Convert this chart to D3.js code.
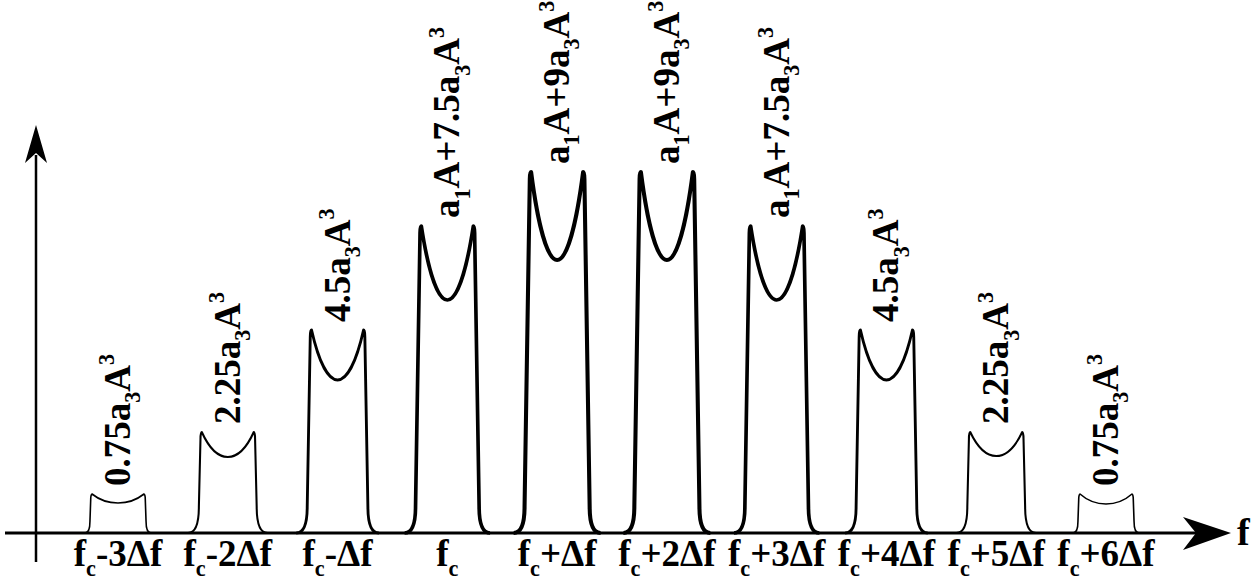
<!DOCTYPE html>
<html>
<head>
<meta charset="utf-8">
<script src="https://cdn.jsdelivr.net/npm/d3@7"></script>
<style>
  html, body { margin: 0; padding: 0; background: #fff; }
  svg { display: block; }
</style>
</head>
<body>
<div id="chart"></div>
<script>
// Spectral components around the carrier: offset in units of Δf
const offsets = [-3, -2, -1, 0, 1, 2, 3, 4, 5, 6];
// Peak (edge) and dip (centre) heights, arbitrary units
const peaks = [39, 101, 203, 307, 361, 361, 307, 203, 101, 39];
const dips  = [30, 76, 153, 233, 273, 273, 233, 153, 77, 29];
// Labels: "_x" = subscript char, "^x" = superscript char
const freqLabels = ['f_c-3Δf', 'f_c-2Δf', 'f_c-Δf', 'f_c', 'f_c+Δf', 'f_c+2Δf',
                    'f_c+3Δf', 'f_c+4Δf', 'f_c+5Δf', 'f_c+6Δf'];
const ampLabels = ['0.75a_3A^3', '2.25a_3A^3', '4.5a_3A^3', 'a_1A+7.5a_3A^3', 'a_1A+9a_3A^3',
                   'a_1A+9a_3A^3', 'a_1A+7.5a_3A^3', '4.5a_3A^3', '2.25a_3A^3', '0.75a_3A^3'];

const W = 1258, H = 581;
const FONT = '"Liberation Serif", "Times New Roman", Times, serif';
const FS = 37;

const svg = d3.select('#chart').append('svg')
    .attr('width', W)
    .attr('height', H);

const x = d3.scaleLinear().domain([-3, 6]).range([118, 1106]);
const y = d3.scaleLinear().domain([0, 400]).range([533, 133]);

// split "a_1A^3" into plain / sub / sup pieces
function parseRich(str) {
    const out = [];
    let buf = '';
    for (let i = 0; i < str.length; i++) {
        const ch = str[i];
        if ((ch === '_' || ch === '^') && i + 1 < str.length) {
            if (buf) { out.push({ t: buf, k: '' }); buf = ''; }
            out.push({ t: str[i + 1], k: ch === '_' ? 'sub' : 'sup' });
            i++;
        } else {
            buf += ch;
        }
    }
    if (buf) out.push({ t: buf, k: '' });
    return out;
}

function addRich(text, str, fs) {
    let shift = 0;
    parseRich(str).forEach(s => {
        const target = s.k === 'sub' ? fs * 0.28 : s.k === 'sup' ? -fs * 0.42 : 0;
        text.append('tspan')
            .attr('dy', target - shift)
            .attr('font-size', s.k ? fs * 0.6 : fs)
            .text(s.t);
        shift = target;
    });
}

// outline of one component: flared foot, near-vertical sides, two horns and a U-shaped dip
function pulsePath(cx, y0, yp, yd) {
    const h = y0 - yp;
    const fh = Math.min(26, h * 0.3);
    const w = 26;
    const eTop = 27.3;
    const eBot = 27.5 + 0.014 * h;
    const foot = eBot + fh * 0.42;
    const r = Math.min(7, h * 0.15);
    const dd = yd - yp;
    const p = d3.path();
    p.moveTo(cx - foot, y0);
    p.bezierCurveTo(cx - eBot - fh * 0.1, y0, cx - eBot, y0 - fh * 0.45, cx - eBot, y0 - fh);
    p.lineTo(cx - eTop, yp + r);
    p.bezierCurveTo(cx - eTop, yp + r * 0.3, cx - w - 0.6, yp, cx - w, yp);
    p.bezierCurveTo(cx - w * 0.74, yp + dd * 0.6, cx - w * 0.38, yd, cx, yd);
    p.bezierCurveTo(cx + w * 0.38, yd, cx + w * 0.74, yp + dd * 0.6, cx + w, yp);
    p.bezierCurveTo(cx + w + 0.6, yp, cx + eTop, yp + r * 0.3, cx + eTop, yp + r);
    p.lineTo(cx + eBot, y0 - fh);
    p.bezierCurveTo(cx + eBot, y0 - fh * 0.45, cx + eBot + fh * 0.1, y0, cx + foot, y0);
    return p.toString();
}

const comps = offsets.map((o, i) => ({
    o, peak: peaks[i], dip: dips[i], fl: freqLabels[i], al: ampLabels[i]
}));

// Axes
const axisY = y(0);
svg.append('line')
    .attr('x1', 5).attr('x2', 1200)
    .attr('y1', axisY).attr('y2', axisY)
    .attr('stroke', '#000').attr('stroke-width', 3);
svg.append('path')
    .attr('d', `M1231,${axisY} L1183,${axisY - 16} L1196,${axisY} L1183,${axisY + 17} Z`)
    .attr('fill', '#000');

svg.append('line')
    .attr('x1', 36).attr('x2', 36)
    .attr('y1', 562).attr('y2', 155)
    .attr('stroke', '#000').attr('stroke-width', 2.5);
svg.append('path')
    .attr('d', 'M36,125 L25,163 L36,153 L47,163 Z')
    .attr('fill', '#000');

svg.append('text')
    .attr('x', 1237).attr('y', 545)
    .style('font-family', FONT).style('font-weight', 'bold')
    .attr('font-size', 38)
    .text('f');

// Components
svg.append('g').selectAll('path')
    .data(comps)
    .join('path')
    .attr('d', d => pulsePath(x(d.o), y(0), y(d.peak), y(d.dip)))
    .attr('fill', 'none')
    .attr('stroke', '#000')
    .attr('stroke-linejoin', 'round')
    .attr('stroke-width', d => 1.3 + (y(0) - y(d.peak)) / 130);

// Frequency labels under the axis
svg.append('g').selectAll('text')
    .data(comps)
    .join('text')
    .attr('x', d => x(d.o))
    .attr('y', 566)
    .attr('text-anchor', 'middle')
    .style('font-family', FONT)
    .style('font-weight', 'bold')
    .attr('font-size', FS)
    .each(function(d) { addRich(d3.select(this), d.fl, FS); });

// Amplitude labels, rotated, above each component
svg.append('g').selectAll('text')
    .data(comps)
    .join('text')
    .attr('transform', d => `translate(${x(d.o) + 12},${y(d.peak) - 8}) rotate(-90)`)
    .style('font-family', FONT)
    .style('font-weight', 'bold')
    .attr('font-size', FS)
    .each(function(d) { addRich(d3.select(this), d.al, FS); });
</script>
</body>
</html>
